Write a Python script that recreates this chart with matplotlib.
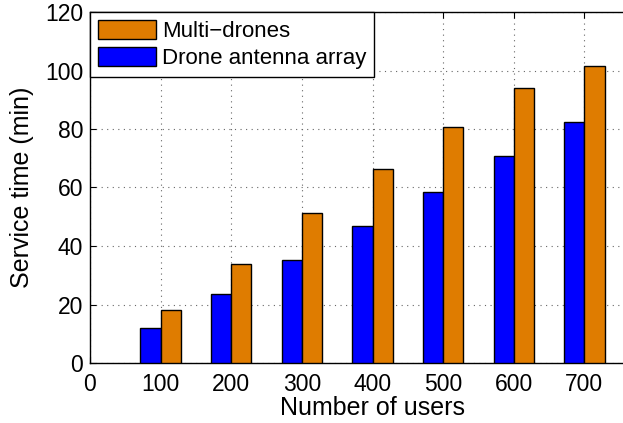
import matplotlib
matplotlib.use('Agg')
import matplotlib.pyplot as plt
import numpy as np

plt.rcParams['font.family'] = ['Liberation Sans', 'DejaVu Sans']

users = [100, 200, 300, 400, 500, 600, 700]
antenna_array = [11.9, 23.6, 35.2, 46.8, 58.6, 70.7, 82.3]
multi_drones = [18.1, 34.0, 51.2, 66.3, 80.8, 93.9, 101.6]

orange = '#DF7C00'
blue = '#0000FF'

fig = plt.figure(figsize=(6.23, 4.23), dpi=100)
ax = fig.add_axes([90 / 623, 60 / 423, 565 / 623, 351 / 423])

x = np.array(users)
w = 28.6
ax.bar(x - w / 2, antenna_array, w, color=blue, edgecolor='black', linewidth=1,
       label='Drone antenna array', zorder=3)
ax.bar(x + w / 2, multi_drones, w, color=orange, edgecolor='black', linewidth=1,
       label='Multi\u2212drones', zorder=3)

ax.set_xlim(0, 800)
ax.set_ylim(0, 120)
ax.set_xticks(range(0, 800, 100))
ax.set_yticks(range(0, 121, 20))
ax.tick_params(direction='in', labelsize=16.5, top=True, right=True, length=4)
ax.tick_params(axis='x', pad=7)
ax.tick_params(axis='y', pad=5)
ax.grid(True, linestyle=(0, (1, 4)), color='#666666', linewidth=0.8, zorder=0)
ax.set_axisbelow(True)
for s in ax.spines.values():
    s.set_linewidth(1)

ax.set_xlabel('Number of users', fontsize=18, labelpad=0)
ax.set_ylabel('Service time (min)', fontsize=18, labelpad=8)

h, l = ax.get_legend_handles_labels()
leg = ax.legend(h[::-1], l[::-1], loc='upper left', fontsize=16, frameon=True,
                fancybox=False, edgecolor='black', framealpha=1,
                borderaxespad=0, handlelength=2.6, handleheight=0.95,
                labelspacing=0.22, borderpad=0.35, handletextpad=0.3)
leg.get_frame().set_linewidth(1)

fig.savefig('out.png', dpi=100)
